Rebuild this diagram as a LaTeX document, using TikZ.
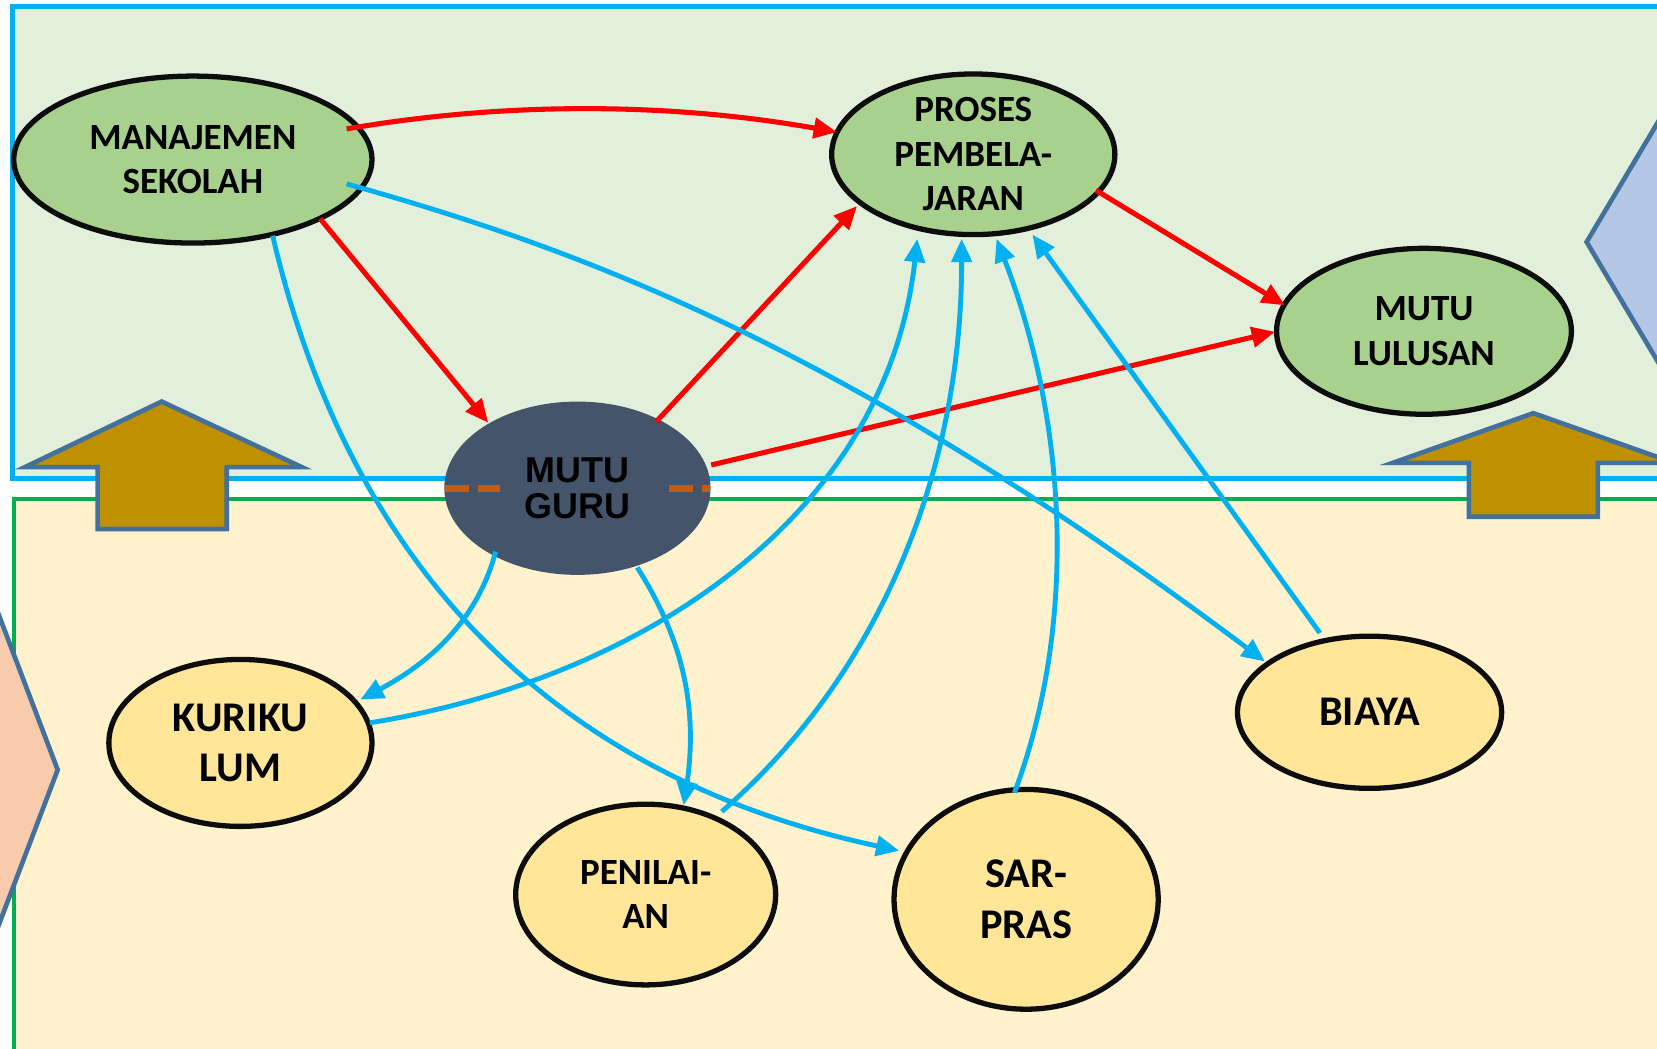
\documentclass[tikz,border=0pt]{standalone}
\usepackage{fontspec}
\newfontfamily\calib{Carlito}
\newfontfamily\arialf{Liberation Sans}
\usetikzlibrary{arrows.meta,shapes.geometric,calc}
\definecolor{topfill}{HTML}{E2EFDA}
\definecolor{botfill}{HTML}{FFF2CC}
\definecolor{lnblue}{HTML}{00B0F0}
\definecolor{lngreen}{HTML}{00B050}
\definecolor{lnred}{HTML}{FF0000}
\definecolor{gfill}{HTML}{A9D18E}
\definecolor{yfill}{HTML}{FFE699}
\definecolor{gurufill}{HTML}{44546A}
\definecolor{arrfill}{HTML}{BF9000}
\definecolor{shapeb}{HTML}{41719C}
\definecolor{pinkfill}{HTML}{F8CBAD}
\definecolor{bluefill}{HTML}{B4C7E7}
\definecolor{dashor}{HTML}{C55A11}
\begin{document}
\begin{tikzpicture}[x=1pt,y=-1pt,
  box/.style={ellipse,draw=black!95,line width=5pt,inner sep=0pt,align=center},
  gnode/.style={box,fill=gfill,font=\calib\bfseries\fontsize{35}{42}\selectfont},
  ynode/.style={box,fill=yfill,font=\calib\bfseries\fontsize{40}{48}\selectfont},
  ynodes/.style={box,fill=yfill,font=\calib\bfseries\fontsize{35}{41}\selectfont},
  redc/.style={draw=lnred,line width=4.8pt,-{Triangle[length=22pt,width=19pt]}},
  bluec/.style={draw=lnblue,line width=4.6pt,-{Triangle[length=22pt,width=19pt]}},
  uparrow/.style={fill=arrfill,draw=shapeb,line width=4.4pt,line join=miter},
  sideshape/.style={draw=shapeb,line width=4.4pt,line join=miter},
  orangedash/.style={draw=dashor,line width=7pt,dash pattern=on 23pt off 8pt}
]
\useasboundingbox (0,0) rectangle (1568,992);
\clip (0,0) rectangle (1568,992);
\fill[white] (0,0) rectangle (1568,992);
% regions
\draw[fill=topfill,draw=lnblue,line width=4.2pt] (11.7,6.3) rectangle (1620,453);
\draw[fill=botfill,draw=lngreen,line width=3.8pt] (13,472) rectangle (1620,1100);
% up arrows
\draw[uparrow] (153,380) -- (285.5,442) -- (214.5,442) -- (214.5,500.6) -- (92.4,500.6) -- (92.4,442) -- (23.7,442) -- cycle;
\draw[uparrow] (1451,391) -- (1584,438) -- (1512,438) -- (1512,489) -- (1390,489) -- (1390,438) -- (1318,438) -- cycle;
% side shapes
\draw[sideshape,fill=pinkfill] (-60,427) -- (54.6,728.5) -- (-60,1030) -- cycle;
\draw[sideshape,fill=bluefill] (1640,-4) -- (1501.4,229) -- (1640,462) -- cycle;
% nodes
\node[gnode,minimum width=339pt,minimum height=158pt] (mana) at (182.5,151) {MANAJEMEN\\SEKOLAH};
\node[gnode,minimum width=268pt,minimum height=152pt] (proses) at (921,146) {PROSES\\PEMBELA-\\JARAN};
\node[gnode,minimum width=279pt,minimum height=157pt] (lulus) at (1347.5,313.5) {MUTU\\LULUSAN};
\node[ellipse,fill=gurufill,inner sep=0pt,minimum width=252pt,minimum height=164pt] (guru) at (546.4,462) {};
\draw[orangedash] (421,462) -- (473,462);
\draw[orangedash] (633,462) -- (672,462);
\node[align=center,font=\arialf\bfseries\fontsize{34}{34}\selectfont,text=black] (gurutext) at (guru.center) {MUTU\\GURU};
\node[ynode,minimum width=249pt,minimum height=158pt] (kuri) at (227.5,703) {KURIKU\\LUM};
\node[ynodes,minimum width=246pt,minimum height=171pt] (peni) at (611,846.5) {PENILAI-\\AN};
\node[ynode,minimum width=250pt,minimum height=208pt] (sarp) at (971,851) {SAR-\\PRAS};
\node[ynode,minimum width=250pt,minimum height=144pt] (biaya) at (1296,674) {BIAYA};
% red connectors
\draw[redc] ($(mana.center)+(145.5,-29)$) .. controls (479,96) and (634,97) .. ($(proses.center)+(-129,-21)$);
\draw[redc] ($(mana.center)+(120.5,56)$) -- ($(guru.center)+(-84.4,-62)$);
\draw[redc] ($(guru.center)+(74.6,-63)$) -- ($(proses.center)+(-110,49)$);
\draw[redc] ($(proses.center)+(116,34)$) -- ($(lulus.center)+(-131.5,-24.5)$);
\draw[redc] ($(guru.center)+(126.6,-22)$) -- ($(lulus.center)+(-141,0.5)$);
% blue connectors
\draw[bluec] ($(mana.center)+(145.5,23)$) .. controls (550,236) and (800,328) .. ($(biaya.center)+(-99,-48)$);
\draw[bluec] ($(mana.center)+(75.5,72)$) .. controls (325,510) and (500,730) .. ($(sarp.center)+(-120,-46)$);
\draw[bluec] ($(guru.center)+(-77.4,60)$) .. controls (455,575) and (420,620) .. ($(kuri.center)+(113.5,-41)$);
\draw[bluec] ($(guru.center)+(56.6,75)$) .. controls (640,595) and (662,660) .. ($(peni.center)+(36,-84.5)$);
\draw[bluec] ($(kuri.center)+(122.5,-19)$) .. controls (620,640) and (840,480) .. ($(proses.center)+(-53,80)$);
\draw[bluec] ($(peni.center)+(72,-78.5)$) .. controls (830,640) and (910,450) .. ($(proses.center)+(-11,80)$);
\draw[bluec] ($(sarp.center)+(-11,-101)$) .. controls (1020,590) and (1010,400) .. ($(proses.center)+(22,80)$);
\draw[bluec] ($(biaya.center)+(-47,-75)$) -- ($(proses.center)+(56,76)$);
\end{tikzpicture}
\end{document}
